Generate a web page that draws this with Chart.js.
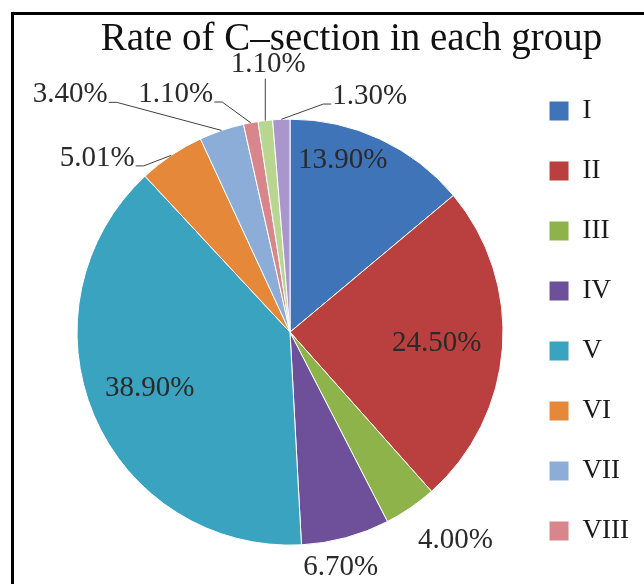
<!DOCTYPE html>
<html>
<head>
<meta charset="utf-8">
<script src="https://cdn.jsdelivr.net/npm/chart.js@4.4.1/dist/chart.umd.min.js"></script>
<style>
  html, body { margin: 0; padding: 0; background: #fff; }
  #wrap { position: relative; width: 644px; height: 584px; overflow: hidden; }
  #frame { position: absolute; left: 11px; top: 12px; width: 700px; height: 700px;
           border-left: 3px solid #000; border-top: 3px solid #000; }
  #myChart { position: absolute; left: 0; top: 0; }
</style>
</head>
<body>
<div id="wrap">
  <div id="frame"></div>
  <canvas id="myChart" width="644" height="584"></canvas>
</div>
<script>
let groups = ['I', 'II', 'III', 'IV', 'V', 'VI', 'VII', 'VIII', 'IX', 'X']
let rates = [13.90, 24.50, 4.00, 6.70, 38.90, 5.01, 3.40, 1.10, 1.10, 1.30]
let colors = ['#3f74b9', '#b9403f', '#8db34a', '#6e4f9a', '#3aa3c0',
              '#e5883a', '#8dadd9', '#d8858c', '#b9d690', '#a996cc']

// where each value label sits: r = distance as share of the radius,
// da = turn away from the middle of the slice (degrees), line = leader line side
const labelPlace = [
  {r: 0.845, da: -8},
  {r: 0.69, da: 0},
  {r: 1.25, da: -4},
  {r: 1.13, da: 3},
  {r: 0.71, da: 1},
  {r: 1.22, da: -14, line: 'right'},
  {r: 1.52, da: -24, line: 'right'},
  {r: 1.24, da: -15, line: 'right'},
  {r: 1.26, da: 2, line: 'down'},
  {r: 1.17, da: 21, line: 'left'},
]

const serif = '"Liberation Serif", "Times New Roman", serif'

const sliceLabels = {
  id: 'sliceLabels',
  afterDatasetsDraw(chart) {
    const ctx = chart.ctx
    const meta = chart.getDatasetMeta(0)
    ctx.save()
    ctx.font = '29px ' + serif
    ctx.fillStyle = '#2a2a2a'
    ctx.strokeStyle = '#404040'
    ctx.lineWidth = 1
    ctx.textAlign = 'center'
    ctx.textBaseline = 'middle'
    meta.data.forEach((arc, i) => {
      const {x, y, startAngle, endAngle, outerRadius} =
        arc.getProps(['x', 'y', 'startAngle', 'endAngle', 'outerRadius'], true)
      const p = labelPlace[i]
      const mid = (startAngle + endAngle) / 2
      const a = mid + p.da * Math.PI / 180
      const lx = x + Math.cos(a) * outerRadius * p.r
      const ly = y + Math.sin(a) * outerRadius * p.r
      const text = rates[i].toFixed(2) + '%'
      ctx.fillText(text, lx, ly)
      if (p.line) {
        const w = ctx.measureText(text).width
        const ex = x + Math.cos(mid) * outerRadius
        const ey = y + Math.sin(mid) * outerRadius
        ctx.beginPath()
        if (p.line === 'right') {
          ctx.moveTo(lx + w / 2 + 1, ly + 8)
          ctx.lineTo(lx + w / 2 + 9, ly + 8)
        } else if (p.line === 'left') {
          ctx.moveTo(lx - w / 2 - 1, ly + 8)
          ctx.lineTo(lx - w / 2 - 9, ly + 8)
        } else {
          ctx.moveTo(ex, ly + 14)
        }
        ctx.lineTo(ex, ey)
        ctx.stroke()
      }
    })
    ctx.restore()
  }
}

const ctx = document.getElementById('myChart')
new Chart(ctx, {
  type: 'pie',
  data: {
    labels: groups,
    datasets: [{
      data: rates,
      backgroundColor: colors,
      borderColor: '#ffffff',
      borderWidth: 1,
      radius: 213
    }]
  },
  options: {
    responsive: false,
    animation: false,
    layout: {
      padding: {top: 0, right: 5, bottom: 6.5, left: 64}
    },
    plugins: {
      title: {
        display: true,
        text: 'Rate of C\u2013section in each group',
        color: '#111',
        font: {family: serif, size: 39, weight: 'normal'},
        padding: {top: 16, bottom: 24}
      },
      legend: {
        position: 'right',
        align: 'end',
        fullSize: true,
        labels: {
          boxWidth: 20,
          boxHeight: 20,
          padding: 33,
          color: '#1a1a1a',
          font: {family: serif, size: 27},
          filter: (item) => item.index < 8
        }
      },
      tooltip: {enabled: false}
    }
  },
  plugins: [sliceLabels]
})
</script>
</body>
</html>
